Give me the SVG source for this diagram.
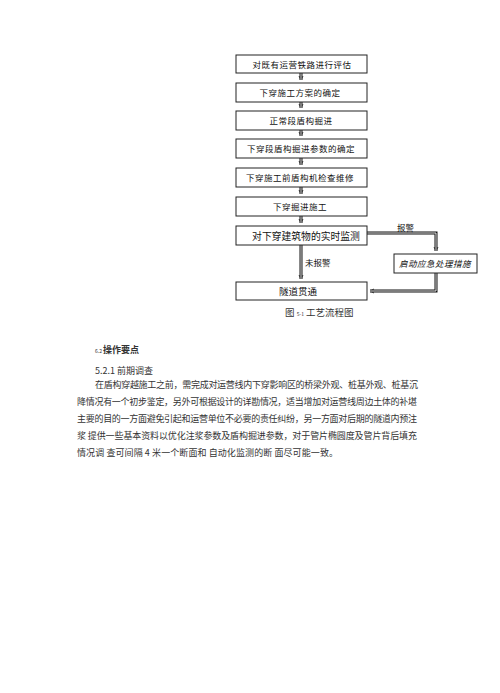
<svg xmlns="http://www.w3.org/2000/svg" width="500" height="693" viewBox="0 0 500 693">
<style>
.bx{fill:#fff;stroke:#222;stroke-width:1}
.t{font-family:"Noto Sans CJK SC","Liberation Sans",sans-serif;font-size:8.5px;fill:#111;text-anchor:middle}
.cb{fill:none;stroke:#111;stroke-width:3}
.cw{fill:none;stroke:#fff;stroke-width:0.9}
.p{font-family:"Noto Sans CJK SC","Liberation Sans",sans-serif;font-size:9px;fill:#333}
.lb{font-family:"Noto Sans CJK SC","Liberation Sans",sans-serif;font-size:8.5px;fill:#111}
</style>
<defs>
<marker id="ah" markerWidth="6" markerHeight="6" refX="4" refY="3" orient="auto" markerUnits="userSpaceOnUse">
<path d="M0,1 L4,3 L0,5" fill="none" stroke="#111" stroke-width="0.8"/>
</marker>
</defs>
<g id="connectors">
<path class="cb" d="M301,73 V80" marker-end="url(#ah)"/><path class="cw" d="M301,73 V80"/>
<path class="cb" d="M301,102 V108" marker-end="url(#ah)"/><path class="cw" d="M301,102 V108"/>
<path class="cb" d="M301,130 V136" marker-end="url(#ah)"/><path class="cw" d="M301,130 V136"/>
<path class="cb" d="M301,158 V165" marker-end="url(#ah)"/><path class="cw" d="M301,158 V165"/>
<path class="cb" d="M301,187 V194" marker-end="url(#ah)"/><path class="cw" d="M301,187 V194"/>
<path class="cb" d="M301,216 V223" marker-end="url(#ah)"/><path class="cw" d="M301,216 V223"/>
<path class="cb" d="M301,245 V279" marker-end="url(#ah)"/><path class="cw" d="M301,245 V279"/>
<path class="cb" d="M367,233 H436 V251" marker-end="url(#ah)"/><path class="cw" d="M367,233 H436 V251"/>
<path class="cb" d="M436,273 V291 H370" marker-end="url(#ah)"/><path class="cw" d="M436,273 V291 H370"/>
<text class="lb" x="397" y="231">报警</text>
<text class="lb" x="305" y="266">未报警</text>
</g>
<g id="n1"><rect class="bx" x="236" y="55" width="131" height="18"/><text class="t" x="302" y="67.5" letter-spacing="0.5">对既有运营铁路进行评估</text></g>
<g id="n2"><rect class="bx" x="236" y="83" width="131" height="19"/><text class="t" x="300" y="96" letter-spacing="0.5">下穿施工方案的确定</text></g>
<g id="n3"><rect class="bx" x="236" y="111" width="131" height="19"/><text class="t" x="301" y="124" letter-spacing="0.5">正常段盾构掘进</text></g>
<g id="n4"><rect class="bx" x="236" y="139" width="131" height="19"/><text class="t" x="301" y="152" letter-spacing="0.5">下穿段盾构掘进参数的确定</text></g>
<g id="n5"><rect class="bx" x="236" y="168" width="131" height="19"/><text class="t" x="300" y="181" letter-spacing="0.5">下穿施工前盾构机检查维修</text></g>
<g id="n6"><rect class="bx" x="236" y="197" width="131" height="19"/><text class="t" x="300" y="210" letter-spacing="0.5">下穿掘进施工</text></g>
<g id="n7"><rect class="bx" x="236" y="226" width="131" height="19"/><text class="t" x="306" y="239.5" style="font-size:9.8px">对下穿建筑物的实时监测</text></g>
<g id="n8"><rect class="bx" x="236" y="282" width="131" height="18"/><text class="t" x="298" y="294.5" style="font-size:9.5px">隧道贯通</text></g>
<g id="n9"><rect class="bx" x="394" y="254" width="83" height="19"/><text class="t" x="435" y="267" style="font-style:italic" letter-spacing="0.5">启动应急处理措施</text></g>
<g id="caption">
<text class="p" x="285" y="316" style="font-size:9.5px">图 <tspan style="font-size:5px">5-1</tspan> 工艺流程图</text>
</g>
<g id="body">
<text class="p" x="95" y="353"><tspan style="font-size:5px">6.2</tspan><tspan style="font-weight:bold" dx="1">操作要点</tspan></text>
<text class="p" x="95" y="374">5.2.1 前期调查</text>
<text class="p" x="95" y="388" textLength="323" lengthAdjust="spacing">在盾构穿越施工之前，需完成对运营线内下穿影响区的桥梁外观、桩基外观、桩基沉</text>
<text class="p" x="77" y="405" textLength="340" lengthAdjust="spacing">降情况有一个初步鉴定，另外可根据设计的详勘情况，适当增加对运营线周边土体的补堪</text>
<text class="p" x="77" y="422" textLength="340" lengthAdjust="spacing">主要的目的一方面避免引起和运营单位不必要的责任纠纷，另一方面对后期的隧道内预注</text>
<text class="p" x="77" y="439" textLength="340" lengthAdjust="spacing">浆 提供一些基本资料以优化注浆参数及盾构掘进参数，对于管片椭圆度及管片背后填充</text>
<text class="p" x="77" y="456" textLength="261" lengthAdjust="spacing">情况调 查可间隔 4 米一个断面和 自动化监测的断 面尽可能一致。</text>
</g>
</svg>
